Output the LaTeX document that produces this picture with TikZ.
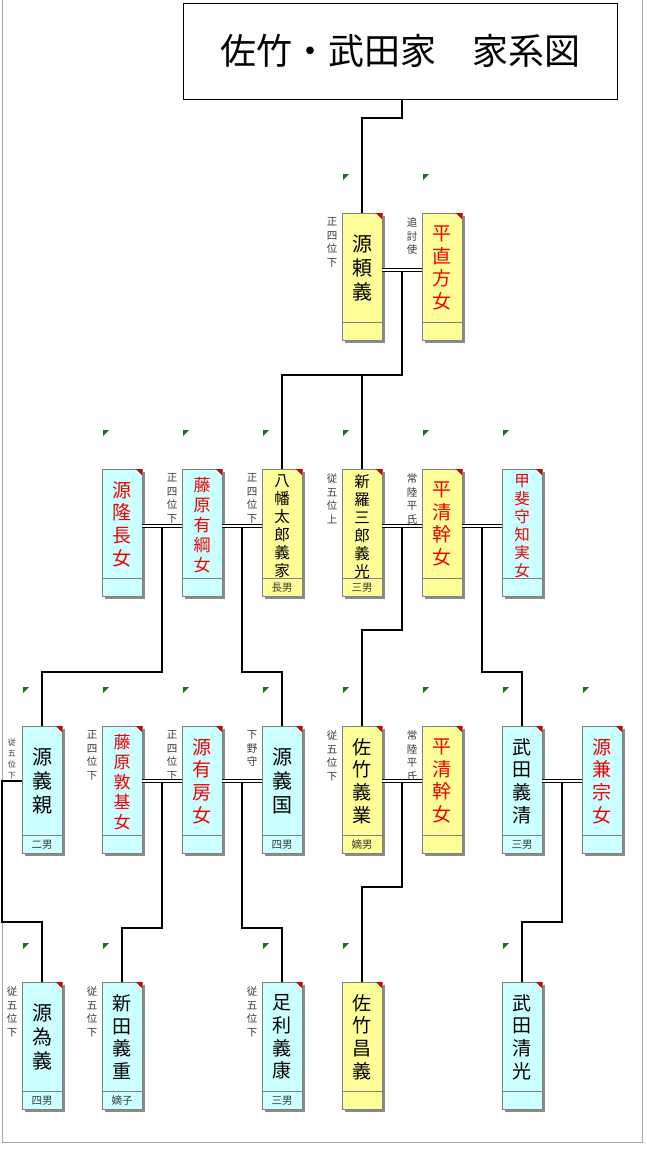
\documentclass[tikz,border=0pt]{standalone}
\usepackage{fontspec}
\setmainfont{Noto Sans CJK JP}
\definecolor{boxyellow}{HTML}{FFFF99}
\definecolor{boxcyan}{HTML}{CCFFFF}
\definecolor{boxgray}{HTML}{808080}
\definecolor{shadowgray}{HTML}{8C8C8C}
\definecolor{framegray}{HTML}{A6A6A6}
\definecolor{cornerred}{HTML}{D40000}
\definecolor{markgreen}{HTML}{1E6B1E}
\definecolor{femred}{HTML}{F00000}
\definecolor{labelgray}{HTML}{3A3A3A}
\tikzset{
  pbox/.style={draw=boxgray, line width=0.8pt, anchor=north west, minimum width=40pt,
    minimum height=127pt, inner sep=0pt, outer sep=0pt},
  n3/.style={font=\fontsize{20}{24}\selectfont},
  n4/.style={font=\fontsize{19}{22.7}\selectfont},
  n5/.style={font=\fontsize{17}{20}\selectfont, yshift=-1pt},
  n6/.style={font=\fontsize{15.5}{18}\selectfont, yshift=-2.5pt},
  sidestyle/.style={anchor=north, align=center, inner sep=0pt, text=labelgray,
    font=\fontsize{10.5}{13.6}\selectfont},
  sidesmall/.style={font=\fontsize{8}{11}\selectfont},
  bottomlbl/.style={inner sep=0pt, text=labelgray, font=\fontsize{10.5}{11}\selectfont},
  conn/.style={line width=2.2pt, draw=black},
  marr/.style={draw=black, double=white, double distance=1.5pt, line width=1pt},
  titlebox/.style={draw=black, line width=0.8pt, fill=white, minimum width=434pt,
    minimum height=96pt, inner sep=0pt, font=\fontsize{36}{36}\selectfont}
}
% #1 id, #2 x, #3 y, #4 fill, #5 text colour, #6 name style, #7 name, #8 rank
\newcommand{\psn}[8]{%
  \fill[shadowgray] (#2+3,#3+3) rectangle (#2+43,#3+130);
  \node[pbox, fill=#4] (#1) at (#2,#3) {};
  \draw[boxgray, line width=0.8pt] (#2,#3+109) -- (#2+40,#3+109);
  \fill[cornerred] (#2+34,#3) -- (#2+40,#3) -- (#2+40,#3+6) -- cycle;
  \fill[markgreen] (#2+1,#3-39) -- (#2+7,#3-39) -- (#2+1,#3-33) -- cycle;
  \node[#6, text=#5, align=center, inner sep=0pt] (#1-name) at (#2+20,#3+55) {#7};
  \node[bottomlbl] (#1-rank) at (#2+20,#3+118.5) {#8};
}
\newcommand{\sidel}[3][]{%
  \node[sidestyle, #1] (#2-side) at ([shift={(-10,4.5)}]#2.north west) {#3};
}
\begin{document}
\begin{tikzpicture}[x=1pt, y=-1pt]
\useasboundingbox (0,0) rectangle (647,1149);
\draw[framegray, line width=1pt] (2,0) -- (2,1142) -- (642,1142) -- (642,0);
\node[titlebox] (title) at (400,51) {佐竹・武田家　家系図};

% row 1
\psn{yoriyoshi}{342}{213}{boxyellow}{black}{n3}{源\\頼\\義}{}
\psn{naokata}{422}{213}{boxyellow}{femred}{n4}{平\\直\\方\\女}{}
% row 2
\psn{takanaga}{102}{469}{boxcyan}{femred}{n4}{源\\隆\\長\\女}{}
\psn{aritsuna}{182}{469}{boxcyan}{femred}{n5}{藤\\原\\有\\綱\\女}{}
\psn{yoshiie}{262}{469}{boxyellow}{black}{n6}{八\\幡\\太\\郎\\義\\家}{長男}
\psn{yoshimitsu}{342}{469}{boxyellow}{black}{n6}{新\\羅\\三\\郎\\義\\光}{三男}
\psn{kiyomotoA}{422}{469}{boxyellow}{femred}{n4}{平\\清\\幹\\女}{}
\psn{tomozane}{502}{469}{boxcyan}{femred}{n6}{甲\\斐\\守\\知\\実\\女}{}
% row 3
\psn{yoshichika}{22}{726}{boxcyan}{black}{n3}{源\\義\\親}{二男}
\psn{atsumoto}{102}{726}{boxcyan}{femred}{n5}{藤\\原\\敦\\基\\女}{}
\psn{arifusa}{182}{726}{boxcyan}{femred}{n4}{源\\有\\房\\女}{}
\psn{yoshikuni}{262}{726}{boxcyan}{black}{n3}{源\\義\\国}{四男}
\psn{yoshinari}{342}{726}{boxyellow}{black}{n4}{佐\\竹\\義\\業}{嫡男}
\psn{kiyomotoB}{422}{726}{boxyellow}{femred}{n4}{平\\清\\幹\\女}{}
\psn{yoshikiyo}{502}{726}{boxcyan}{black}{n4}{武\\田\\義\\清}{三男}
\psn{kanemune}{582}{726}{boxcyan}{femred}{n4}{源\\兼\\宗\\女}{}
% row 4
\psn{tameyoshi}{22}{982}{boxcyan}{black}{n3}{源\\為\\義}{四男}
\psn{yoshishige}{102}{982}{boxcyan}{black}{n4}{新\\田\\義\\重}{嫡子}
\psn{yoshiyasu}{262}{982}{boxcyan}{black}{n4}{足\\利\\義\\康}{三男}
\psn{masayoshi}{342}{982}{boxyellow}{black}{n4}{佐\\竹\\昌\\義}{}
\psn{kiyomitsu}{502}{982}{boxcyan}{black}{n4}{武\\田\\清\\光}{}

% side labels
\sidel{yoriyoshi}{正\\四\\位\\下}
\sidel{naokata}{追\\討\\使}
\sidel{aritsuna}{正\\四\\位\\下}
\sidel{yoshiie}{正\\四\\位\\下}
\sidel{yoshimitsu}{従\\五\\位\\上}
\sidel{kiyomotoA}{常\\陸\\平\\氏}
\node[sidestyle, sidesmall] (yoshichika-side) at ([shift={(-10,12.5)}]yoshichika.north west) {従\\五\\位\\下};
\sidel{atsumoto}{正\\四\\位\\下}
\sidel{arifusa}{正\\四\\位\\下}
\sidel{yoshikuni}{下\\野\\守}
\sidel{yoshinari}{従\\五\\位\\下}
\sidel{kiyomotoB}{常\\陸\\平\\氏}
\sidel{tameyoshi}{従\\五\\位\\下}
\sidel{yoshishige}{従\\五\\位\\下}
\sidel{yoshiyasu}{従\\五\\位\\下}

% junction coordinates
\coordinate (t0) at (402,118);
\coordinate (m1) at (402,270);
\coordinate (j1) at (402,375);
\coordinate (m2a) at (162,526);
\coordinate (m2b) at (242,526);
\coordinate (m2c) at (402,526);
\coordinate (m2d) at (482,526);
\coordinate (j2a) at (162,672);
\coordinate (j2b) at (242,672);
\coordinate (j2c) at (402,630);
\coordinate (j2d) at (482,672);
\coordinate (w1) at (2,781);
\coordinate (w2) at (2,922);
\coordinate (m3a) at (162,781);
\coordinate (m3b) at (242,781);
\coordinate (m3c) at (402,781);
\coordinate (m3d) at (562,781);
\coordinate (j3a) at (162,928);
\coordinate (j3b) at (242,928);
\coordinate (j3c) at (402,887);
\coordinate (j3d) at (562,922);

% descent lines
\draw[conn] (title.south -| t0) -- (t0) -| (yoriyoshi.north);
\draw[conn] (m1) -- (j1) -| (yoshiie.north);
\draw[conn] (j1 -| yoshimitsu.north) -- (yoshimitsu.north);
\draw[conn] (m2a) -- (j2a) -| (yoshichika.north);
\draw[conn] (m2b) -- (j2b) -| (yoshikuni.north);
\draw[conn] (m2c) -- (j2c) -| (yoshinari.north);
\draw[conn] (m2d) -- (j2d) -| (yoshikiyo.north);
\draw[conn] (yoshichika.west |- w1) -- (w1) -- (w2) -| (tameyoshi.north);
\draw[conn] (m3a) -- (j3a) -| (yoshishige.north);
\draw[conn] (m3b) -- (j3b) -| (yoshiyasu.north);
\draw[conn] (m3c) -- (j3c) -| (masayoshi.north);
\draw[conn] (m3d) -- (j3d) -| (kiyomitsu.north);

% marriage lines
\draw[marr] (yoriyoshi.east |- m1) -- (naokata.west |- m1);
\draw[marr] (takanaga.east |- m2a) -- (aritsuna.west |- m2a);
\draw[marr] (aritsuna.east |- m2b) -- (yoshiie.west |- m2b);
\draw[marr] (yoshimitsu.east |- m2c) -- (kiyomotoA.west |- m2c);
\draw[marr] (kiyomotoA.east |- m2d) -- (tomozane.west |- m2d);
\draw[marr] (atsumoto.east |- m3a) -- (arifusa.west |- m3a);
\draw[marr] (arifusa.east |- m3b) -- (yoshikuni.west |- m3b);
\draw[marr] (yoshinari.east |- m3c) -- (kiyomotoB.west |- m3c);
\draw[marr] (yoshikiyo.east |- m3d) -- (kanemune.west |- m3d);
\end{tikzpicture}
\end{document}
